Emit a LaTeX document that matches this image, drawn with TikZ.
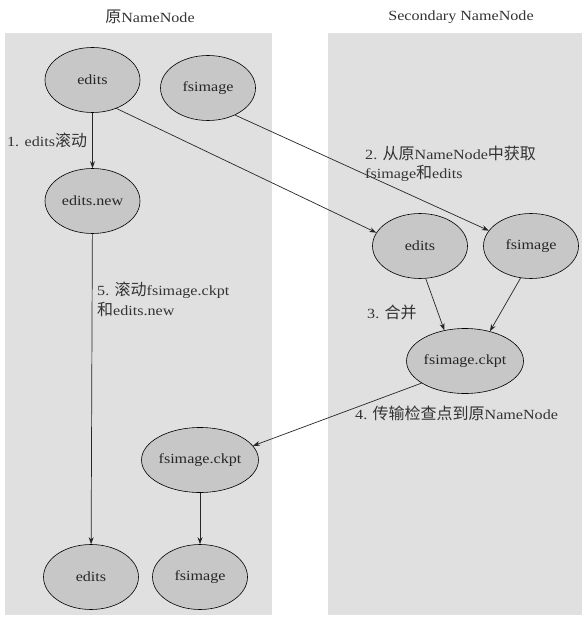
\documentclass[tikz,border=0pt]{standalone}
\usepackage{fontspec}
\setmainfont[FakeStretch=1.15]{Liberation Serif}
\newfontfamily\cjk{Noto Sans CJK SC}
\newcommand{\zh}[1]{{\fontsize{16}{18}\selectfont\cjk #1}}
\usetikzlibrary{shapes.geometric,arrows.meta}
\begin{document}
\begin{tikzpicture}[x=1pt,y=-1pt,
  panel/.style={fill=black!12,draw=none},
  file/.style={ellipse,draw=black,line width=0.6pt,fill=black!22,minimum width=95pt,minimum height=65pt,inner sep=0pt,font=\fontsize{14}{16}\selectfont,text=black!85},
  flow/.style={draw=black!85,line width=0.7pt,-{Stealth[length=7pt,width=5pt]}},
  lbl/.style={font=\fontsize{14}{18}\selectfont,text=black!80,align=left,inner sep=0pt},
  ttl/.style={font=\fontsize{14}{17}\selectfont,text=black!80,inner sep=0pt}]
\useasboundingbox[fill=white] (0,0) rectangle (582,617);
% two machine panels
\fill[panel] (5,33) rectangle (272,615);
\fill[panel] (328,33) rectangle (582,615);
\node[ttl] (t1) at (150,17) {\zh{原}NameNode};
\node[ttl] (t2) at (461,17) {Secondary NameNode};
% primary NameNode files
\node[file] (e1) at (92.5,80) {edits};
\node[file] (f1) at (208,88) {fsimage};
\node[file] (en) at (92.5,201) {edits.new};
\node[file] (ck2) at (200,460) {fsimage.ckpt};
\node[file] (e3) at (91,577) {edits};
\node[file] (f3) at (200,577) {fsimage};
% secondary NameNode files
\node[file] (e2) at (420,246) {edits};
\node[file] (f2) at (531,246) {fsimage};
\node[file,minimum width=88pt] (ck1) at (465,361) {fsimage.ckpt};
% steps
\draw[flow] (e1) -- (en);
\draw[flow] (e1.-50) -- (e2.163);
\draw[flow] (f1.-45) -- (f2.160);
\draw[flow] (e2.-80) -- (ck1.124);
\draw[flow] (f2.-108) -- (ck1.50);
\draw[flow] (ck1.-153) -- (ck2.15);
\draw[flow] (ck2) -- (f3);
\draw[flow] (en) -- (e3);
% step labels
\node[lbl,anchor=west] (s1) at (7,140) {1. edits\zh{滚动}};
\node[lbl,anchor=west] (s2a) at (365,153) {2. \zh{从原}NameNode\zh{中获取}};
\node[lbl,anchor=west] (s2b) at (365,173) {fsimage\zh{和}edits};
\node[lbl,anchor=west] (s3) at (367,312) {3. \zh{合并}};
\node[lbl,anchor=west] (s4) at (355,413) {4. \zh{传输检查点到原}NameNode};
\node[lbl,anchor=west] (s5a) at (97,290) {5. \zh{滚动}fsimage.ckpt};
\node[lbl,anchor=west] (s5b) at (97,309) {\zh{和}edits.new};
\end{tikzpicture}
\end{document}
